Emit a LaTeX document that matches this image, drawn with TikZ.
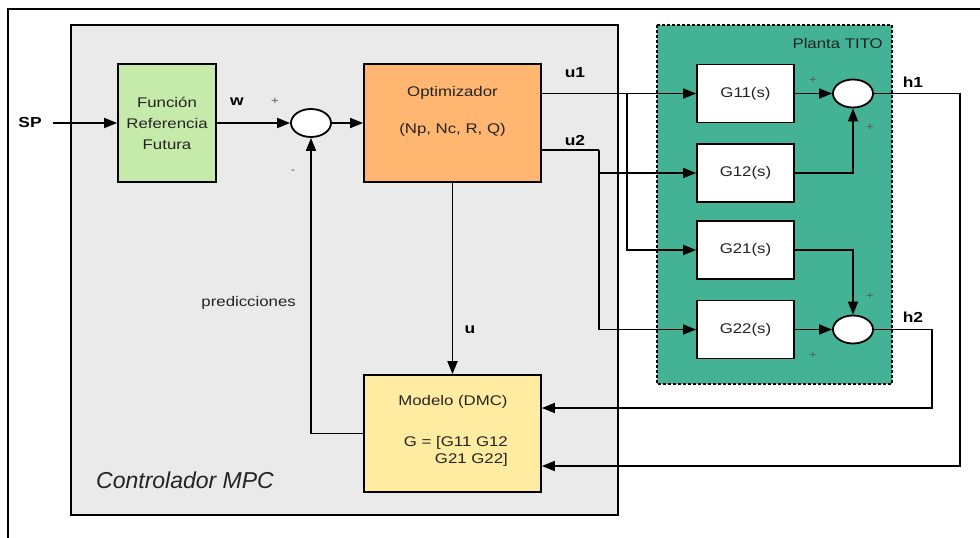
\documentclass[tikz,border=0pt]{standalone}
\usepackage{fontspec}
\setmainfont[FakeStretch=1.2]{Liberation Sans}
\newfontfamily\ctlfont{Liberation Sans}
\usetikzlibrary{arrows.meta,shapes.geometric}
\definecolor{grayfill}{RGB}{234,234,234}
\definecolor{greenfill}{RGB}{198,234,170}
\definecolor{orangefill}{RGB}{255,182,112}
\definecolor{yellowfill}{RGB}{255,236,160}
\definecolor{tealfill}{RGB}{68,178,148}
\definecolor{txt}{RGB}{35,35,35}
\begin{document}
\begin{tikzpicture}[x=1pt,y=-1pt,
  every node/.style={font=\fontsize{14}{17}\selectfont, text=txt, inner sep=1pt},
  blk/.style={draw=black, line width=1.8pt, inner sep=0pt},
  gbox/.style={blk, fill=white, minimum width=97pt, minimum height=58pt},
  sumc/.style={draw=black, line width=1.8pt, fill=white, ellipse, minimum width=40pt, minimum height=28pt, inner sep=0pt},
  conn/.style={line width=1.8pt, draw=black},
  arr/.style={conn, -{Triangle[length=13pt,width=10pt]}},
  lbl/.style={font=\fontsize{14.5}{17}\selectfont\bfseries, text=black},
  pm/.style={font=\fontsize{11}{12}\selectfont, text=black!65}
]
\useasboundingbox (0,0) rectangle (980,538);
\fill[white] (0,0) rectangle (980,538);
% outer frame (only top and left edges visible)
\draw[line width=1.8pt] (8,538) -- (8,9) -- (980,9);
% controller area
\draw[line width=1.6pt, fill=grayfill] (71,25) rectangle (618,515);
% plant area
\draw[line width=1.6pt, fill=tealfill, dash pattern=on 3pt off 2pt] (657,25) rectangle (892,384);
\node[anchor=east] (planta) at (884,43) {Planta TITO};
\node[anchor=west, font=\fontsize{23}{26}\ctlfont\itshape] (ctl) at (95,480) {Controlador MPC};

% blocks
\node[blk, fill=greenfill, minimum width=98pt, minimum height=118pt, align=center] (fr) at (167,123)
  {Función\\[4pt]Referencia\\[4pt]Futura};
\node[blk, fill=orangefill, minimum width=177pt, minimum height=118pt] (opt) at (452.5,123) {};
\node (optA) at (452.5,93) {Optimizador};
\node (optB) at (452.5,130) {(Np, Nc, R, Q)};
\node[blk, fill=yellowfill, minimum width=177pt, minimum height=117pt] (mod) at (452.5,433.5) {};
\node (modA) at (453,402) {Modelo (DMC)};
\node[anchor=east, align=right] (modB) at (509,451.5) {G = [G11 G12\\G21 G22]};

\node[sumc] (s0) at (311,123) {};
\node[gbox] (g11) at (745.5,93.5) {G11(s)};
\node[gbox] (g12) at (745.5,173) {G12(s)};
\node[gbox] (g21) at (745.5,250) {G21(s)};
\node[gbox] (g22) at (745.5,329.5) {G22(s)};
\node[sumc] (s1) at (853,93.5) {};
\node[sumc] (s2) at (853,329.5) {};

% signal labels
\node[lbl] (sp) at (30,123) {SP};
\node[lbl] (w) at (237,102) {w};
\node[pm] (p0) at (275,101) {+};
\node[pm] (m0) at (293,172) {-};
\node[lbl] (lu1) at (575,73) {u1};
\node[lbl] (lu2) at (575,141) {u2};
\node[lbl] (lh1) at (913,82) {h1};
\node[lbl] (lh2) at (913,317) {h2};
\node[lbl] (lu) at (470,330) {u};
\node[anchor=east] (pred) at (297,303) {predicciones};
\node[pm] (p1) at (813,80) {+};
\node[pm] (p2) at (870,127) {+};
\node[pm] (p3) at (870,296) {+};
\node[pm] (p4) at (813,355) {+};

% helper coordinates
\coordinate (b1) at (627,93.5);
\coordinate (u2s) at (541,150);
\coordinate (b2) at (599,150);
\coordinate (b2m) at (599,173);
\coordinate (h1c) at (960,466);
\coordinate (h2c) at (932,408);

% connectors
\draw[arr, shorten <=10pt] (sp.east) -- (fr.west);
\draw[arr] (fr.east) -- (s0.west);
\draw[arr] (s0.east) -- (opt.west);
\draw[arr] (opt.south) -- (mod.north);
\draw[arr] (mod.west) -| (s0.south);
\draw[arr] (opt.east |- g11.west) -- (g11.west);
\draw[arr] (b1) |- (g21.west);
\draw[conn] (u2s) -- (b2);
\draw[arr] (b2) |- (g22.west);
\draw[arr] (b2m) -- (g12.west);
\draw[arr] (g11.east) -- (s1.west);
\draw[arr] (g12.east) -| (s1.south);
\draw[arr] (g21.east) -| (s2.north);
\draw[arr] (g22.east) -- (s2.west);
\draw[arr] (s1.east) -| (h1c) -- (h1c -| mod.east);
\draw[arr] (s2.east) -| (h2c) -- (h2c -| mod.east);
\end{tikzpicture}
\end{document}
